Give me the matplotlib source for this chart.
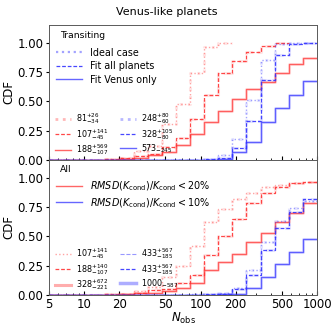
import numpy as np
import matplotlib
matplotlib.use("Agg")
import matplotlib.pyplot as plt
from matplotlib.lines import Line2D

# bin edges of N_obs (log spaced)
edges = np.logspace(np.log10(5), 3, 20)

# CDF values at each edge (held until next edge); nan = not drawn
tr_ideal = [0, 0, 0, 0.002, 0.005, 0.02, 0.08, 0.117, 0.31, 0.48, 0.74, 0.96, 1.0, np.nan, np.nan, np.nan, np.nan, np.nan, np.nan]
tr_all = [0, 0, 0, 0.002, 0.005, 0.02, 0.037, 0.05, 0.11, 0.19, 0.35, 0.55, 0.74, 0.84, 0.92, 0.97, 1.0, np.nan, np.nan]
tr_venus = [0, 0, 0, 0, 0.003, 0.01, 0.02, 0.04, 0.065, 0.13, 0.22, 0.32, 0.42, 0.52, 0.60, 0.665, 0.74, 0.82, 0.87]
tr_ideal_b = [0, 0, 0, 0, 0, 0, 0, 0, 0, 0, 0.002, 0.005, 0.043, 0.18, 0.51, 0.85, 0.985, 1.0, 1.0]
tr_all_b = [0, 0, 0, 0, 0, 0, 0, 0, 0, 0, 0.002, 0.004, 0.02, 0.10, 0.33, 0.68, 0.89, 0.99, 1.0]
tr_venus_b = [0, 0, 0, 0, 0, 0, 0, 0, 0, 0, 0.001, 0.003, 0.01, 0.07, 0.15, 0.32, 0.44, 0.55, 0.67]

all_ideal = [0, 0, 0, 0.002, 0.005, 0.01, 0.03, 0.07, 0.15, 0.245, 0.42, 0.625, 0.73, 0.82, 0.87, 0.92, 0.94, 0.95, 0.96]
all_all = [0, 0, 0, 0.002, 0.004, 0.008, 0.02, 0.04, 0.05, 0.10, 0.17, 0.34, 0.50, 0.65, 0.78, 0.87, 0.92, 0.95, 0.96]
all_venus = [0, 0, 0, 0.001, 0.003, 0.006, 0.012, 0.02, 0.03, 0.055, 0.10, 0.21, 0.28, 0.345, 0.45, 0.53, 0.62, 0.70, 0.78]
all_ideal_b = [0, 0, 0, 0, 0, 0, 0, 0, 0, 0.002, 0.004, 0.008, 0.02, 0.06, 0.21, 0.45, 0.63, 0.74, 0.80]
all_all_b = [0, 0, 0, 0, 0, 0, 0, 0, 0, 0.001, 0.003, 0.005, 0.01, 0.05, 0.17, 0.38, 0.57, 0.71, 0.82]
all_venus_b = [0, 0, 0, 0, 0, 0, 0, 0, 0, 0, 0.001, 0.002, 0.005, 0.01, 0.06, 0.15, 0.26, 0.365, 0.48]

tr_labels_r = [r"$81^{+26}_{-34}$", r"$107^{+141}_{-45}$", r"$188^{+569}_{-107}$"]
tr_labels_b = [r"$248^{+80}_{-60}$", r"$328^{+105}_{-80}$", r"$573_{-245}$"]
all_labels_r = [r"$107^{+141}_{-45}$", r"$188^{+140}_{-107}$", r"$328^{+672}_{-221}$"]
all_labels_b = [r"$433^{+567}_{-185}$", r"$433^{+567}_{-185}$", r"$1000_{-587}$"]

RED = (1.0, 0.2, 0.2)
BLUE = (0.2, 0.2, 1.0)
STYLES = [dict(ls=":", lw=1.0, alpha=0.45), dict(ls=(0, (3, 1.5)), lw=0.9, alpha=0.9), dict(ls="-", lw=1.0, alpha=0.75)]


def cdf_step(ax, vals, color, style):
    v = np.append(vals, vals[-1])
    ax.step(edges, v, where="post", color=color, lw=style["lw"], ls=style["ls"], alpha=style["alpha"])
    # pale wide companion
    ax.step(edges, v, where="post", color=color, lw=2.2, ls=style["ls"], alpha=0.13)


plt.rcParams["font.family"] = "DejaVu Sans"
fig, (ax1, ax2) = plt.subplots(2, 1, figsize=(3.33, 3.28), dpi=100, sharex=True)
fig.subplots_adjust(left=0.147, right=0.952, top=0.924, bottom=0.101, hspace=0)

for ax, reds, blues in [(ax1, [tr_ideal, tr_all, tr_venus], [tr_ideal_b, tr_all_b, tr_venus_b]),
                        (ax2, [all_ideal, all_all, all_venus], [all_ideal_b, all_all_b, all_venus_b])]:
    for vals, st in zip(reds, STYLES):
        cdf_step(ax, vals, RED, st)
    for vals, st in zip(blues, STYLES):
        cdf_step(ax, vals, BLUE, st)
    ax.set_xscale("log")
    ax.set_xlim(5, 1000)
    ax.set_ylim(0, 1.15)
    ax.set_yticks([0, 0.25, 0.5, 0.75, 1.0])
    ax.set_yticklabels(["0.00", "0.25", "0.50", "0.75", "1.00"])
    ax.set_ylabel("CDF", fontsize=8.5)
    ax.yaxis.set_label_coords(-0.125, 0.5)
    ax.tick_params(axis="y", labelsize=8.5, length=2.5, pad=1.5)
    ax.tick_params(axis="x", which="both", direction="in", labelsize=8.5, pad=2)
    ax.tick_params(axis="x", which="major", length=3)
    ax.tick_params(axis="x", which="minor", length=1.8)
    for sp in ax.spines.values():
        sp.set_color("0.35")
        sp.set_linewidth(0.7)

ax2.set_xticks([5, 10, 20, 50, 100, 200, 500, 1000])
ax2.set_xticklabels(["5", "10", "20", "50", "100", "200", "500", "1000"])
ax2.set_xlabel(r"$N_{\rm obs}$", fontsize=8.5, labelpad=0)
fig.suptitle("Venus-like planets", fontsize=8, x=0.5, y=0.963, va="center")

# top panel legends
ax1.text(0.04, 0.955, "Transiting", transform=ax1.transAxes, fontsize=6.7, va="top")
h_main = [Line2D([], [], color=BLUE, **STYLES[0]), Line2D([], [], color=BLUE, **STYLES[1]),
          Line2D([], [], color=BLUE, **STYLES[2])]
h_main[0].set_lw(1.6)
leg = ax1.legend(h_main, ["Ideal case", "Fit all planets", "Fit Venus only"], loc="upper left",
                 bbox_to_anchor=(0.0, 0.88), frameon=False, fontsize=6.9, handlelength=2.8,
                 labelspacing=0.35, borderaxespad=0.3)
ax1.add_artist(leg)

sub_kw = dict(loc="lower left", bbox_to_anchor=(0.0, -0.02), ncol=2, frameon=False, fontsize=5.8,
              handlelength=2.0, labelspacing=0.05, columnspacing=1.5, borderaxespad=0.3,
              handletextpad=0.6)

h_sub = [Line2D([], [], color=RED, ls=":", lw=2.0, alpha=0.35), Line2D([], [], color=RED, **STYLES[1]),
         Line2D([], [], color=RED, **STYLES[2]),
         Line2D([], [], color=BLUE, ls=":", lw=2.0, alpha=0.35), Line2D([], [], color=BLUE, **STYLES[1]),
         Line2D([], [], color=BLUE, **STYLES[2])]
ax1.legend(h_sub, tr_labels_r + tr_labels_b, **sub_kw)

# bottom panel legends
ax2.text(0.04, 0.965, "All", transform=ax2.transAxes, fontsize=6.7, va="top")
h_rms = [Line2D([], [], color=RED, lw=1.0, alpha=0.75), Line2D([], [], color=BLUE, lw=1.0, alpha=0.75)]
leg2 = ax2.legend(h_rms, [r"$RMSD(K_{\rm cond})/K_{\rm cond} < 20\%$", r"$RMSD(K_{\rm cond})/K_{\rm cond} < 10\%$"],
                  loc="upper left", bbox_to_anchor=(0.0, 0.905), frameon=False, fontsize=6.9,
                  handlelength=2.8, labelspacing=0.3, borderaxespad=0.3)
ax2.add_artist(leg2)
h_sub2 = [Line2D([], [], color=RED, ls=":", lw=1.0, alpha=0.45), Line2D([], [], color=RED, **STYLES[1]),
          Line2D([], [], color=RED, ls="-", lw=2.2, alpha=0.4),
          Line2D([], [], color=BLUE, ls="--", lw=0.8, alpha=0.5), Line2D([], [], color=BLUE, **STYLES[1]),
          Line2D([], [], color=BLUE, ls="-", lw=2.5, alpha=0.4)]
ax2.legend(h_sub2, all_labels_r + all_labels_b, **sub_kw)

fig.savefig("out.png", dpi=100)
